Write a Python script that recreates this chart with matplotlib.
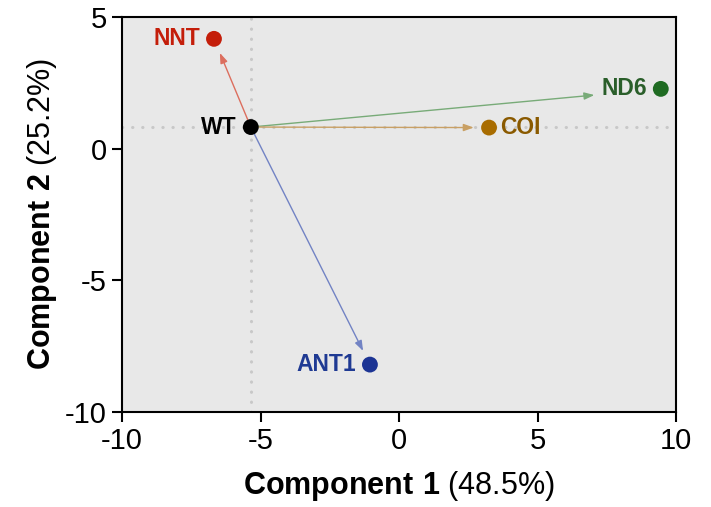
import matplotlib.pyplot as plt

plt.rcParams["font.family"] = ["Liberation Sans", "DejaVu Sans"]
plt.rcParams["mathtext.fontset"] = "custom"
plt.rcParams["mathtext.rm"] = "Liberation Sans"
plt.rcParams["mathtext.bf"] = "Liberation Sans:bold"
plt.rcParams["axes.unicode_minus"] = False

# PCA scores
labels = ["WT", "NNT", "ND6", "COI", "ANT1"]
comp1 = [-5.35, -6.68, 9.45, 3.25, -1.05]
comp2 = [0.82, 4.17, 2.27, 0.80, -8.2]

point_colors = ["#000000", "#c41e0a", "#1f6b22", "#a86c00", "#1c3494"]
text_colors = ["#000000", "#c41e0a", "#2a5e2a", "#8a5a00", "#1f3a93"]
arrow_colors = ["#000000", "#dc6e5e", "#78ab78", "#c9a064", "#7283c4"]
label_side = ["left", "left", "left", "right", "left"]
arrow_shrink = [0, 11, 48, 11, 11]

xticks = [-10, -5, 0, 5, 10]
yticks = [-10, -5, 0, 5]

fig = plt.figure(figsize=(7.11, 5.07), dpi=100)
ax = fig.add_axes([0.1716, 0.1874, 0.7792, 0.7791])
ax.set_facecolor("#e8e8e8")

ax.set_xlim(-10, 10)
ax.set_ylim(-10, 5)

# reference lines through WT
ax.axvline(comp1[0], color="#c8c8c8", lw=2.2, linestyle=(0, (0.1, 3.2)),
           dash_capstyle="round", zorder=1)
ax.axhline(comp2[0], color="#c8c8c8", lw=2.2, linestyle=(0, (0.1, 3.2)),
           dash_capstyle="round", zorder=1)

# arrows from WT to each mutant
for i in range(1, len(labels)):
    ax.annotate("", xy=(comp1[i], comp2[i]), xytext=(comp1[0], comp2[0]),
                arrowprops=dict(arrowstyle="-|>,head_length=0.5,head_width=0.18",
                                color=arrow_colors[i], lw=1.0,
                                shrinkA=5, shrinkB=arrow_shrink[i],
                                mutation_scale=12),
                zorder=2)

ax.scatter(comp1, comp2, s=130, c=point_colors, zorder=3, linewidths=0)

for i, name in enumerate(labels):
    if label_side[i] == "left":
        ax.annotate(name, (comp1[i], comp2[i]), xytext=(-10, 0),
                    textcoords="offset points", ha="right", va="center",
                    fontsize=16.5, fontweight="bold", color=text_colors[i])
    else:
        ax.annotate(name, (comp1[i], comp2[i]), xytext=(8, 0),
                    textcoords="offset points", ha="left", va="center",
                    fontsize=16.5, fontweight="bold", color=text_colors[i])

ax.set_xticks(xticks)
ax.set_yticks(yticks)
ax.tick_params(direction="out", length=7, width=1.5, labelsize=21, pad=4)
for s in ax.spines.values():
    s.set_linewidth(1.5)

ax.set_xlabel(r"$\bf{Component\ 1}$ (48.5%)", fontsize=22, labelpad=10)
ax.set_ylabel(r"$\bf{Component\ 2}$ (25.2%)", fontsize=22, labelpad=4)

fig.savefig("out.png", dpi=100)
